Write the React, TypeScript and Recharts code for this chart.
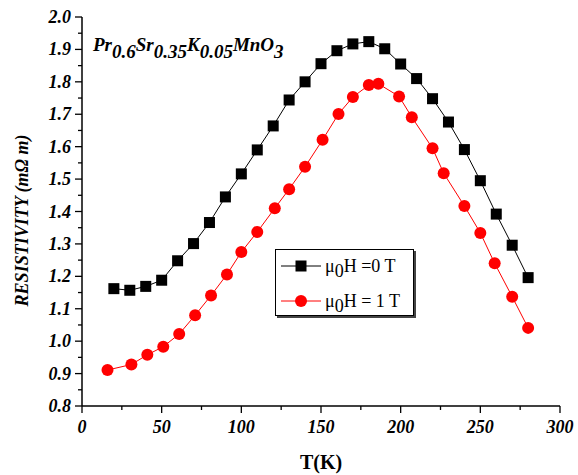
import React from "react";
import { LineChart, Line, XAxis, YAxis, Legend } from "recharts";

// T (K) and resistivity (mΩ m)
const temperatureZeroField = [20, 30, 40, 50, 60, 70, 80, 90, 100, 110, 120, 130, 140, 150, 160, 170, 180, 190, 200, 210, 220, 230, 240, 250, 260, 270, 280];
const resistivityZeroField = [1.162, 1.157, 1.169, 1.188, 1.248, 1.301, 1.366, 1.445, 1.516, 1.59, 1.664, 1.744, 1.8, 1.856, 1.896, 1.917, 1.924, 1.902, 1.855, 1.81, 1.748, 1.676, 1.591, 1.495, 1.392, 1.296, 1.196];

const temperatureOneTesla = [16, 31, 41, 51, 61, 71, 81, 91, 100, 110, 121, 130, 140, 151, 161, 170, 180, 186, 199, 207, 220, 227, 240, 250, 259, 270, 280];
const resistivityOneTesla = [0.911, 0.928, 0.958, 0.983, 1.022, 1.08, 1.141, 1.206, 1.275, 1.337, 1.41, 1.469, 1.538, 1.621, 1.701, 1.753, 1.79, 1.794, 1.755, 1.691, 1.595, 1.518, 1.417, 1.334, 1.24, 1.137, 1.041];

const xTicks = [0, 25, 50, 75, 100, 125, 150, 175, 200, 225, 250, 275, 300];
const xTickLabels = ["0", "50", "100", "150", "200", "250", "300"];
const yTicks = [0.8, 0.85, 0.9, 0.95, 1.0, 1.05, 1.1, 1.15, 1.2, 1.25, 1.3, 1.35, 1.4, 1.45, 1.5, 1.55, 1.6, 1.65, 1.7, 1.75, 1.8, 1.85, 1.9, 1.95, 2.0];
const yTickLabels = ["0.8", "0.9", "1.0", "1.1", "1.2", "1.3", "1.4", "1.5", "1.6", "1.7", "1.8", "1.9", "2.0"];

const zeroFieldData = temperatureZeroField.map((t, i) => ({ t, r: resistivityZeroField[i] }));
const oneTeslaData = temperatureOneTesla.map((t, i) => ({ t, r: resistivityOneTesla[i] }));

const SERIF = '"Liberation Serif", "Times New Roman", serif';
const AXIS = { stroke: "#000", strokeWidth: 1.5 };

const BottomTick = (props: any) => {
  const { x, y, index } = props;
  const major = index % 2 === 0;
  return (
    <g>
      <line x1={x} x2={x} y1={y} y2={y + (major ? 7 : 4)} stroke="#000" strokeWidth={1.3} />
      {major && (
        <text x={x} y={y + 27} textAnchor="middle" fontFamily={SERIF} fontSize={18} fontWeight="bold" fontStyle="italic" fill="#000">
          {xTickLabels[index / 2]}
        </text>
      )}
    </g>
  );
};

const TopTick = (props: any) => {
  const { x, y, index } = props;
  return <line x1={x} x2={x} y1={y} y2={y + (index % 2 === 0 ? 7 : 4)} stroke="#000" strokeWidth={1.3} />;
};

const LeftTick = (props: any) => {
  const { x, y, index } = props;
  const major = index % 2 === 0;
  return (
    <g>
      <line x1={x - (major ? 7 : 4)} x2={x} y1={y} y2={y} stroke="#000" strokeWidth={1.3} />
      {major && (
        <text x={x - 11} y={y + 6} textAnchor="end" fontFamily={SERIF} fontSize={18} fontWeight="bold" fontStyle="italic" fill="#000">
          {yTickLabels[index / 2]}
        </text>
      )}
    </g>
  );
};

const RightTick = (props: any) => {
  const { x, y, index } = props;
  return <line x1={x - (index % 2 === 0 ? 7 : 4)} x2={x} y1={y} y2={y} stroke="#000" strokeWidth={1.3} />;
};

const YTitle = (props: any) => {
  const vb = props.viewBox || { x: 0, y: 17, height: 389 };
  const cx = vb.x + 28;
  const cy = vb.y + vb.height / 2 + 9;
  return (
    <text x={cx} y={cy} transform={`rotate(-90 ${cx} ${cy})`} textAnchor="middle" fontFamily={SERIF} fontSize={18} fontWeight="bold" fontStyle="italic" fill="#000">
      RESISTIVITY (mΩ m)
    </text>
  );
};

const SquareDot = (props: any) => {
  const { cx, cy, index } = props;
  if (cx == null || cy == null) return <g key={index} />;
  return <rect key={index} x={cx - 5.5} y={cy - 5.5} width={11} height={11} fill="#000" />;
};

const legendItems = [
  { name: "=0 T", color: "#000", shape: "square" },
  { name: "= 1 T", color: "#ff0000", shape: "circle" },
];

const LegendBox = () => (
  <div style={{ width: 137, height: 65, border: "1px solid #000", boxShadow: "2px 2px 0 #444", background: "#fff", position: "relative", fontFamily: SERIF, fontSize: 18, color: "#000" }}>
    {legendItems.map((item, i) => (
      <div key={item.name} style={{ position: "absolute", left: 5, top: 5 + i * 35, height: 22, display: "flex", alignItems: "center", whiteSpace: "nowrap" }}>
        <svg width={40} height={14}>
          <line x1={0} y1={7} x2={40} y2={7} stroke={item.color} strokeWidth={1} />
          {item.shape === "square" ? <rect x={14.5} y={1.5} width={11} height={11} fill={item.color} /> : <circle cx={20} cy={7} r={6} fill={item.color} />}
        </svg>
        <span style={{ marginLeft: 4 }}>
          μ<span style={{ position: "relative", top: 5 }}>0</span>H {item.name}
        </span>
      </div>
    ))}
  </div>
);

export default function App() {
  return (
    <div style={{ position: "absolute", left: 0, top: 0, width: 578, height: 475, background: "#fff" }}>
      <LineChart width={578} height={475} margin={{ top: 17, right: 18, bottom: 0, left: 0 }}>
        <XAxis dataKey="t" type="number" domain={[0, 300]} ticks={xTicks} interval={0} height={69} tickSize={0} tickMargin={0} tickLine={false} axisLine={AXIS} tick={<BottomTick />}
          label={{ value: "T(K)", position: "insideBottom", offset: 6, fontFamily: SERIF, fontSize: 20, fontWeight: "bold", fill: "#000" }} />
        <XAxis xAxisId="top" orientation="top" dataKey="t" type="number" domain={[0, 300]} ticks={xTicks} interval={0} height={0} tickSize={0} tickMargin={0} tickLine={false} axisLine={AXIS} tick={<TopTick />} />
        <YAxis type="number" domain={[0.8, 2.0]} ticks={yTicks} interval={0} width={82} tickSize={0} tickMargin={0} tickLine={false} axisLine={AXIS} tick={<LeftTick />} label={YTitle} />
        <YAxis yAxisId="right" orientation="right" type="number" domain={[0.8, 2.0]} ticks={yTicks} interval={0} width={0} tickSize={0} tickMargin={0} tickLine={false} axisLine={AXIS} tick={<RightTick />} />
        <Legend content={() => <LegendBox />} layout="vertical" verticalAlign="middle" align="center" wrapperStyle={{ left: 275, top: 249, width: 139, height: 67 }} />
        <Line data={zeroFieldData} dataKey="r" name="μ0H =0 T" stroke="#000" strokeWidth={1} dot={SquareDot} isAnimationActive={false} />
        <Line data={oneTeslaData} dataKey="r" name="μ0H = 1 T" stroke="#ff0000" strokeWidth={1} dot={{ r: 6, fill: "#ff0000", stroke: "#ff0000", strokeWidth: 0 }} isAnimationActive={false} />
      </LineChart>
      <div style={{ position: "absolute", left: 93, top: 35, fontFamily: SERIF, fontSize: 19, fontWeight: "bold", fontStyle: "italic", whiteSpace: "nowrap", lineHeight: 1 }}>
        Pr<span style={{ position: "relative", top: 7 }}>0.6</span>Sr<span style={{ position: "relative", top: 7 }}>0.35</span>K<span style={{ position: "relative", top: 7 }}>0.05</span>MnO<span style={{ position: "relative", top: 7 }}>3</span>
      </div>
    </div>
  );
}
